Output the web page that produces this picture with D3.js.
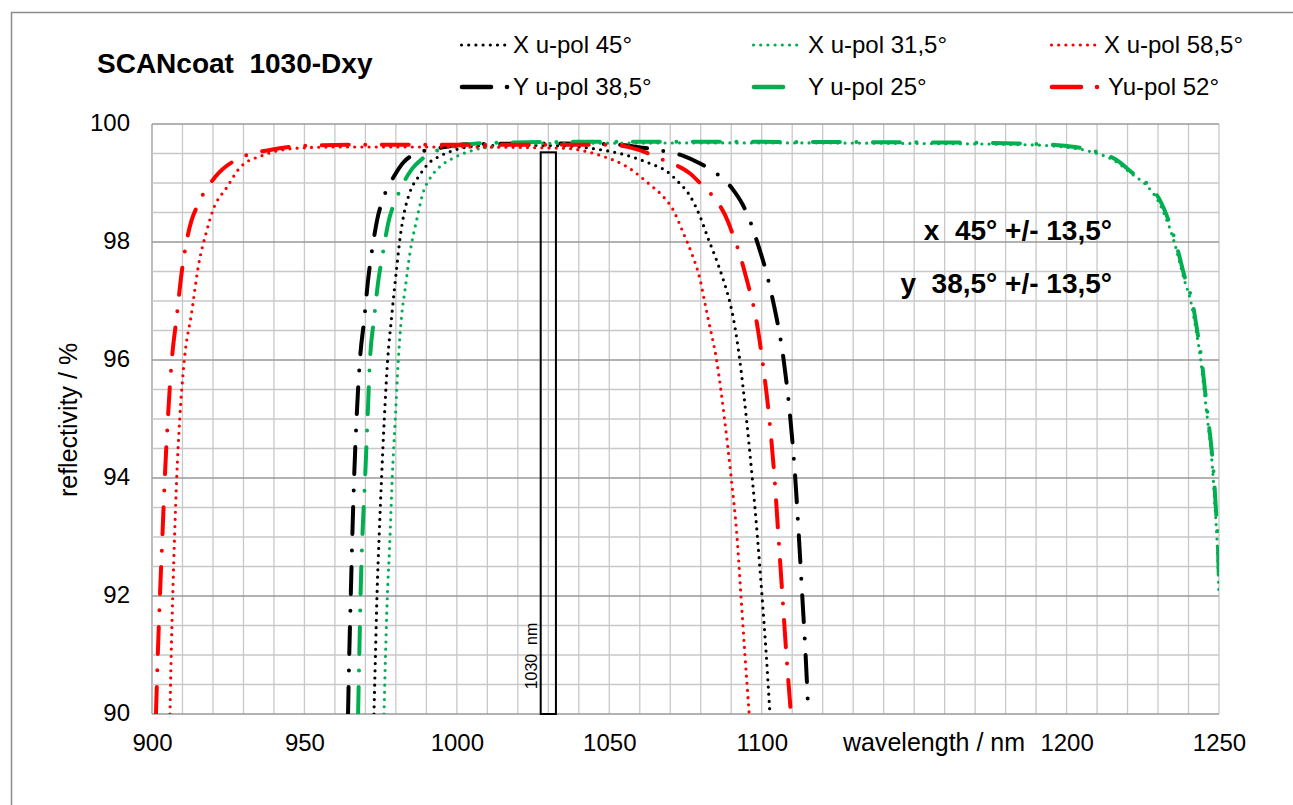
<!DOCTYPE html>
<html>
<head>
<meta charset="utf-8">
<script src="https://cdn.jsdelivr.net/npm/d3@7"></script>
<style>
  html, body { margin: 0; padding: 0; background: #fff; }
  svg { display: block; }
  text { font-family: "Liberation Sans", Arial, sans-serif; fill: #000; white-space: pre; }
</style>
</head>
<body>
<svg id="chart" width="1293" height="805"></svg>
<script>
// ---------------- data ----------------
const chartTitle = "SCANcoat  1030-Dxy";
const xTickValues = [900, 950, 1000, 1050, 1100, 1200, 1250];
const yTickValues = [90, 92, 94, 96, 98, 100];
const xAxisTitle = "wavelength / nm";
const yAxisTitle = "reflectivity / %";
const notes = ["x  45° +/- 13,5°", "y  38,5° +/- 13,5°"];
const markerBand = [1027.5, 1032.5];
const markerTop = 99.52;
const markerLabel = "1030  nm";

const seriesLabels = ["X u-pol 45°", "Y u-pol 38,5°", "X u-pol 31,5°", "Y u-pol 25°", "X u-pol 58,5°", "Yu-pol 52°"];

// [wavelength nm, reflectivity %]
const xPol45 = [[972.8,90],[973.3,91],[973.8,92],[974.5,93],[975.3,94],[976.2,95],[977.3,96],[978.6,96.73],[980.3,97.58],[981.5,98.12],[982.7,98.49],[984.3,98.8],[987.9,99.14],[990.3,99.31],[995,99.47],[1000,99.57],[1008,99.63],[1020,99.64],[1035,99.63],[1045,99.58],[1055,99.48],[1063.4,99.33],[1068.8,99.2],[1072.6,99.02],[1076.5,98.78],[1079.8,98.43],[1082.5,98.05],[1085.2,97.69],[1087.4,97.36],[1089.6,96.97],[1090.8,96.68],[1092.8,96],[1095,95],[1096.9,94],[1098.6,93],[1100.1,92],[1101.5,91],[1102.7,90]];
const yPol385 = [[964.3,90],[964.7,91],[965.2,92],[965.7,93],[966.3,94],[967.1,95],[968.2,96],[969.6,96.68],[971.0,97.41],[972.3,97.9],[974.0,98.41],[975.6,98.7],[979.7,99.14],[982.3,99.34],[986.3,99.49],[996,99.61],[1005,99.66],[1030,99.67],[1050,99.66],[1058,99.62],[1065.5,99.56],[1074.3,99.46],[1079.8,99.33],[1084.1,99.2],[1090.7,98.88],[1093.7,98.64],[1095.6,98.43],[1099,97.92],[1101.6,97.47],[1104,96.93],[1105,96.68],[1107.2,96],[1109.4,95],[1111,94],[1112.2,93],[1113.3,92],[1114.4,91],[1115.3,90]];
const xPol315 = [[976.1,90],[976.6,91],[977.2,92],[977.9,92.78],[978.8,94],[979.8,95],[980.8,96],[981.9,96.76],[983,97.19],[984.6,97.81],[986.8,98.37],[989,98.85],[991.2,99.08],[994.5,99.28],[998.7,99.42],[1005,99.55],[1015,99.63],[1030,99.67],[1100,99.68],[1150,99.67],[1185,99.65],[1197,99.62],[1207.3,99.54],[1216,99.37],[1221.5,99.15],[1226.4,98.95],[1230.2,98.68],[1235.2,98.02],[1238.6,97.36],[1240.8,96.98],[1242.5,96.5],[1244,96],[1245.1,95.5],[1246.2,95],[1247.3,94.5],[1248.1,94],[1248.7,93.5],[1249.3,93],[1249.7,92.5],[1250,92.0]];
const yPol25 = [[967.6,90],[968.0,91],[968.4,92],[969.0,93],[969.9,94],[970.7,95],[971.5,96],[972.8,96.68],[974.1,97.29],[975.8,97.83],[977.4,98.3],[980.7,98.8],[985.3,99.24],[988.9,99.42],[997.8,99.61],[1010,99.68],[1050,99.7],[1150,99.69],[1183.6,99.67],[1197.3,99.64],[1207.7,99.56],[1216.4,99.39],[1221.9,99.16],[1226.8,98.97],[1230.6,98.71],[1235.6,98.03],[1239,97.36],[1241.2,97.0],[1242.8,96.51],[1244.3,96.0],[1245.4,95.49],[1246.5,94.98],[1247.6,94.47],[1248.4,93.97],[1249,93.46],[1249.6,92.95],[1250,92.2]];
const xPol585 = [[905.9,90],[906.3,91],[906.8,92],[907.4,93],[908.1,94],[909.1,95],[910.6,96],[913.0,96.8],[915.1,97.56],[918,98.2],[920,98.54],[924.6,98.93],[929,99.27],[936.4,99.47],[947.6,99.59],[960,99.61],[1000,99.61],[1035,99.59],[1042,99.54],[1048,99.45],[1055,99.3],[1063.4,98.97],[1067.5,98.78],[1071,98.54],[1074.3,98.15],[1077,97.81],[1079.8,97.36],[1081.4,96.96],[1082.5,96.68],[1085.2,96],[1087.8,95],[1090,94],[1091.9,93],[1093.2,92],[1094.5,91],[1095.9,90]];
const yPol52 = [[901.3,90],[901.9,91],[902.6,92],[903.4,93],[904.2,94],[905.2,95],[906.5,96],[908.1,96.73],[909.7,97.47],[911.9,98.15],[915.7,98.7],[920.7,99.1],[930,99.45],[938.7,99.56],[950,99.63],[970,99.65],[1050,99.65],[1057,99.6],[1067.7,99.39],[1076.5,99.16],[1080.3,98.97],[1083.6,98.8],[1089,98.34],[1090.7,98.1],[1092.5,97.84],[1095,97.38],[1096.4,97.1],[1097.6,96.85],[1100.2,96],[1102.5,95],[1104.2,94],[1105.5,93],[1106.8,92],[1108.1,91],[1109.6,90]];

const seriesData = [xPol45, yPol385, xPol315, yPol25, xPol585, yPol52];

// ---------------- styling / layout ----------------
const seriesColors = ["#000000", "#000000", "#00b050", "#00b050", "#ff0000", "#ff0000"];
const seriesKinds = ["dot", "dashdot", "dot", "dashdot", "dot", "dashdot"];
const DOT = { width: 3.2, dash: "0 7.2" };
const DASHDOT = { width: 4, dash: "27 16.5 0 16.5" };

const svg = d3.select("#chart");
const W = 1293, H = 805;
const plot = { left: 152, right: 1219, top: 124, bottom: 714 };

const x = d3.scaleLinear().domain([900, 1250]).range([plot.left, plot.right]);
const y = d3.scaleLinear().domain([90, 100]).range([plot.bottom, plot.top]);

svg.append("rect").attr("width", W).attr("height", H).attr("fill", "#fff");
// outer chart frame
svg.append("rect").attr("x", 11.5).attr("y", 12.5).attr("width", W + 20).attr("height", H + 20)
  .attr("fill", "none").attr("stroke", "#8c8c8c").attr("stroke-width", 1.5);

// grid
const grid = svg.append("g");
d3.range(900, 1251, 10).forEach(v => {
  grid.append("line").attr("x1", x(v)).attr("x2", x(v)).attr("y1", plot.top).attr("y2", plot.bottom)
    .attr("stroke", v === 900 ? "#999" : "#c8c8c8").attr("stroke-width", 1.3);
});
d3.range(0, 21).map(i => 90 + i * 0.5).forEach(v => {
  const major = Math.abs(v - Math.round(v)) < 1e-9 && Math.round(v) % 2 === 0;
  grid.append("line").attr("x1", plot.left).attr("x2", plot.right).attr("y1", y(v)).attr("y2", y(v))
    .attr("stroke", major ? "#999" : "#c8c8c8").attr("stroke-width", 1.3);
});

// axes (labels only)
const yAxis = svg.append("g").attr("transform", `translate(${plot.left},0)`)
  .call(d3.axisLeft(y).tickValues(yTickValues).tickSize(0).tickPadding(22).tickFormat(d3.format("d")));
yAxis.select(".domain").remove();
yAxis.selectAll("text").attr("font-size", 24).attr("dy", "0.28em")
  .style("font-family", "'Liberation Sans', Arial, sans-serif");

const xAxis = svg.append("g").attr("transform", `translate(0,${plot.bottom})`)
  .call(d3.axisBottom(x).tickValues(xTickValues).tickSize(0).tickPadding(20).tickFormat(d3.format("d")));
xAxis.select(".domain").remove();
xAxis.selectAll("text").attr("font-size", 24)
  .style("font-family", "'Liberation Sans', Arial, sans-serif");

svg.append("text").attr("x", 843).attr("y", 751).attr("font-size", 25).text(xAxisTitle);
svg.append("text").attr("transform", "translate(77,420) rotate(-90)").attr("text-anchor", "middle")
  .attr("font-size", 25).text(yAxisTitle);

// curves
svg.append("clipPath").attr("id", "plotclip").append("rect")
  .attr("x", plot.left).attr("y", plot.top - 10).attr("width", plot.right - plot.left).attr("height", plot.bottom - plot.top + 10);

const line = d3.line().x(d => x(d[0])).y(d => y(d[1])).curve(d3.curveMonotoneX);
const curves = svg.append("g").attr("clip-path", "url(#plotclip)");
seriesData.forEach((data, i) => {
  const st = seriesKinds[i] === "dot" ? DOT : DASHDOT;
  curves.append("path").datum(data).attr("d", line)
    .attr("fill", "none").attr("stroke", seriesColors[i]).attr("stroke-width", st.width)
    .attr("stroke-dasharray", st.dash).attr("stroke-linecap", "round").attr("stroke-linejoin", "round");
});

// 1030 nm marker
svg.append("rect").attr("x", x(markerBand[0])).attr("y", y(markerTop))
  .attr("width", x(markerBand[1]) - x(markerBand[0])).attr("height", y(90) - y(markerTop))
  .attr("fill", "none").attr("stroke", "#000").attr("stroke-width", 2);
svg.append("text").attr("transform", "translate(537,656) rotate(-90)").attr("text-anchor", "middle")
  .attr("font-size", 16).text(markerLabel);

// title + notes
svg.append("text").attr("x", 97).attr("y", 73).attr("font-size", 28).attr("font-weight", "bold").text(chartTitle);
notes.forEach((t, i) => {
  svg.append("text").attr("x", 1112).attr("y", 240 + i * 53).attr("text-anchor", "end")
    .attr("font-size", 28).attr("font-weight", "bold").text(t);
});

// legend
const legCols = [{ sx: 460, tx: 513 }, { sx: 752, tx: 808 }, { sx: 1050, tx: 1104 }];
const legRows = [53, 95];
seriesLabels.forEach((lab, i) => {
  const col = legCols[Math.floor(i / 2)], row = i % 2;
  const base = legRows[row];
  const ly = base - 8;
  if (seriesKinds[i] === "dot") {
    svg.append("line").attr("x1", col.sx + 1.5).attr("x2", col.sx + 46).attr("y1", ly).attr("y2", ly)
      .attr("stroke", seriesColors[i]).attr("stroke-width", DOT.width)
      .attr("stroke-dasharray", DOT.dash).attr("stroke-linecap", "round");
  } else {
    const withDot = i !== 3;
    svg.append("line").attr("x1", col.sx + 2).attr("x2", col.sx + (withDot ? 50 : 31)).attr("y1", ly).attr("y2", ly)
      .attr("stroke", seriesColors[i]).attr("stroke-width", DASHDOT.width + 0.6)
      .attr("stroke-dasharray", "29 16 0.01 100").attr("stroke-linecap", "round");
  }
  svg.append("text").attr("x", col.tx + (row === 1 && i === 5 ? 4 : 0)).attr("y", base)
    .attr("font-size", 24).text(lab);
});
</script>
</body>
</html>
